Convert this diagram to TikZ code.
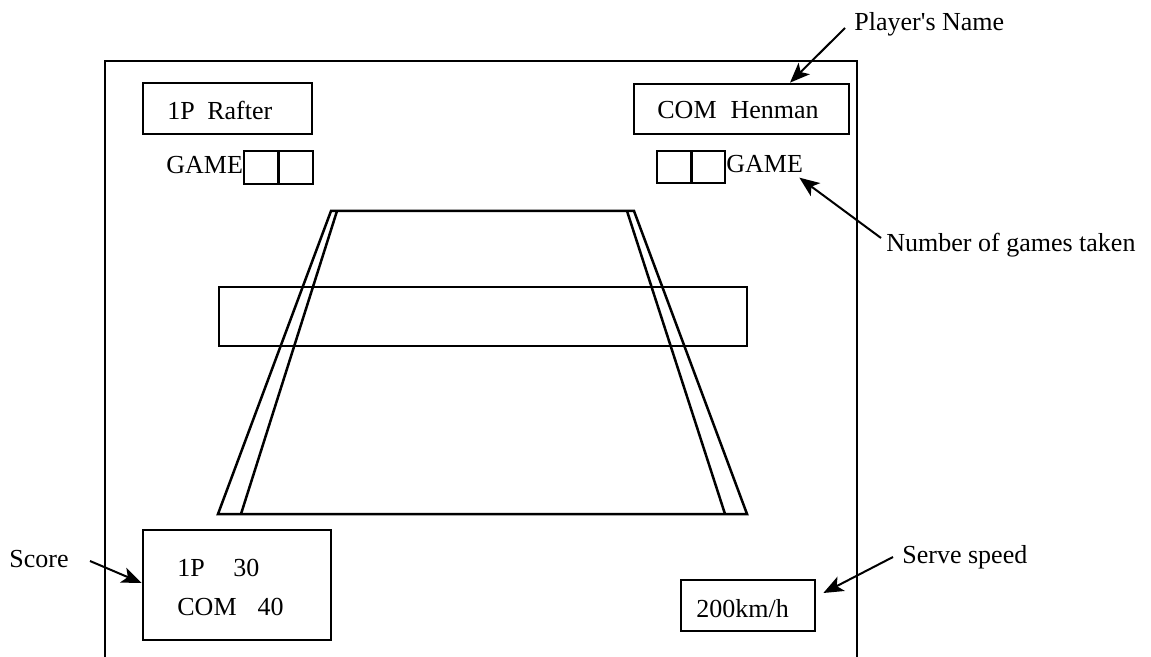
\documentclass[tikz,border=0pt]{standalone}
\usepackage{fontspec}
\setmainfont{Liberation Serif}
\usetikzlibrary{arrows.meta}
\newcommand{\straightquote}{\XeTeXglyph\the\XeTeXcharglyph"0027\relax}
\begin{document}
\begin{tikzpicture}[x=0.5pt,y=-0.5pt,
  box/.style={draw,line width=1.35pt,inner sep=0pt},
  txt/.style={inner sep=0pt,anchor=base west,font=\fontsize{13}{15.6}\selectfont},
  frameline/.style={line width=1.35pt},
  courtline/.style={line width=1.25pt,line join=miter},
  arr/.style={line width=1pt,-{Stealth[length=10pt,width=8pt,inset=2.5pt]}}]
\useasboundingbox (0,0) rectangle (1151,657);
% screen frame
\draw[frameline] (105,657) -- (105,61) -- (857,61) -- (857,657);
% name boxes
\node[box,minimum width=84.5pt,minimum height=25.5pt] (rafter) at (227.5,108.5) {};
\node[txt] (rafterT) at (167,120) {1P\hspace{6.25pt}Rafter};
\node[box,minimum width=107.5pt,minimum height=25pt] (henman) at (741.5,109) {};
\node[txt] (henmanT) at (657,119) {COM\hspace{7pt}Henman};
% game counters
\node[txt] (lgame) at (166,174) {GAME};
\node[box,minimum width=17pt,minimum height=16.5pt] (lg1) at (261,167.5) {};
\node[box,minimum width=17pt,minimum height=16.5pt] (lg2) at (296,167.5) {};
\node[box,minimum width=17pt,minimum height=16pt] (rg1) at (674,167) {};
\node[box,minimum width=16.5pt,minimum height=16pt] (rg2) at (708.5,167) {};
\node[txt] (rgame) at (726,173) {GAME};
% court
\draw[courtline] (218,514) -- (331,211) -- (634,211) -- (747,514) -- cycle;
\draw[courtline] (337,211) -- (241,514);
\draw[courtline] (627,211) -- (725,514);
% net
\node[box,minimum width=264pt,minimum height=29.5pt] (net) at (483,316.5) {};
% score box
\node[box,minimum width=94pt,minimum height=55pt] (score) at (237,585) {};
\node[txt] (s1) at (177,576) {1P\hspace{14.2pt}30};
\node[txt] (s2) at (177,615) {COM\hspace{10.5pt}40};
% speed box
\node[box,minimum width=67pt,minimum height=25.5pt] (speed) at (748,605.5) {};
\node[txt] (speedT) at (696,617) {200km/h};
% labels
\node[txt] (pname) at (854,31) {Player\straightquote s Name};
\node[txt] (ngames) at (886,252) {Number of games taken};
\node[txt] (scoreL) at (9,567) {Score};
\node[txt] (serveL) at (902,563) {Serve speed};
% arrow start points
\coordinate (pnS) at (845,28);
\coordinate (ngS) at (881,238);
\coordinate (scS) at (90,561);
\coordinate (svS) at (893,557);
% arrows
\draw[arr] (pnS) -- ([xshift=24.25pt]henman.north);
\draw[arr] (ngS) -- ([shift={(-2pt,-2pt)}]rgame.south east);
\draw[arr] (scS) -- ([yshift=1pt]score.west);
\draw[arr] (svS) -- ([shift={(3.5pt,6.25pt)}]speed.east);
\end{tikzpicture}
\end{document}
